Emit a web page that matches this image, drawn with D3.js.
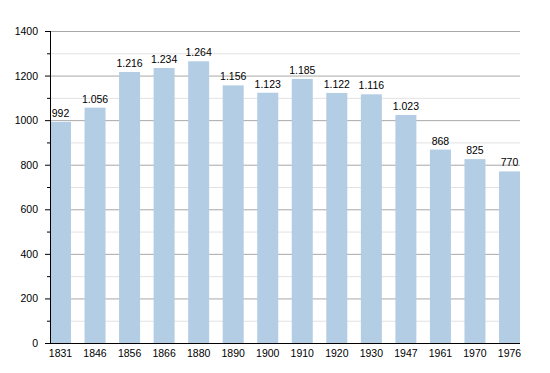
<!DOCTYPE html>
<html>
<head>
<meta charset="utf-8">
<script src="https://cdn.jsdelivr.net/npm/d3@7"></script>
<style>
  body { margin: 0; background: #fff; }
  text { font-family: "Liberation Sans", Arial, sans-serif; font-size: 10.5px; fill: #000; }
</style>
</head>
<body>
<svg id="chart" width="550" height="373"></svg>
<script>
// census years and population
const years = ["1831", "1846", "1856", "1866", "1880", "1890", "1900", "1910", "1920", "1930", "1947", "1961", "1970", "1976"];
const population = [992, 1056, 1216, 1234, 1264, 1156, 1123, 1185, 1122, 1116, 1023, 868, 825, 770];
const majorTicks = [0, 200, 400, 600, 800, 1000, 1200, 1400];
const minorTicks = [100, 300, 500, 700, 900, 1100, 1300];

const svg = d3.select("#chart");
const plotLeft = 50, plotRight = 520, plotTop = 31, plotBottom = 343;

const x = d3.scaleBand().domain(years).range([plotLeft, plotRight]).paddingInner(0.392).paddingOuter(0);
const y = d3.scaleLinear().domain([0, 1400]).range([plotBottom, plotTop]);

// label format with dot as thousands separator
const fmt = d3.formatLocale({ decimal: ",", thousands: ".", grouping: [3], currency: ["", ""] }).format(",d");

// minor grid
svg.append("g").selectAll("line").data(minorTicks).join("line")
  .attr("x1", plotLeft).attr("x2", plotRight)
  .attr("y1", d => y(d) + 0.5).attr("y2", d => y(d) + 0.5)
  .attr("stroke", "#e2e2e2");

// major grid
svg.append("g").selectAll("line").data(majorTicks.filter(d => d > 0)).join("line")
  .attr("x1", plotLeft).attr("x2", plotRight)
  .attr("y1", d => y(d) + 0.5).attr("y2", d => y(d) + 0.5)
  .attr("stroke", "#a8a8a8");

// bars
svg.append("g").selectAll("rect").data(population).join("rect")
  .attr("x", (d, i) => x(years[i]))
  .attr("y", d => y(d))
  .attr("width", x.bandwidth())
  .attr("height", d => plotBottom - y(d))
  .attr("fill", "#b3cde4");

// value labels
svg.append("g").selectAll("text").data(population).join("text")
  .attr("x", (d, i) => x(years[i]) + x.bandwidth() / 2)
  .attr("y", d => y(d) - 5)
  .attr("text-anchor", "middle")
  .text(d => fmt(d));

// y axis
const yAxis = svg.append("g");
yAxis.append("line").attr("x1", plotLeft + 0.5).attr("x2", plotLeft + 0.5).attr("y1", plotTop).attr("y2", plotBottom).attr("stroke", "#000");
yAxis.selectAll(".maj").data(majorTicks).join("line").attr("class", "maj")
  .attr("x1", plotLeft - 5).attr("x2", plotLeft)
  .attr("y1", d => y(d) + 0.5).attr("y2", d => y(d) + 0.5).attr("stroke", "#000");
yAxis.selectAll(".min").data(minorTicks).join("line").attr("class", "min")
  .attr("x1", plotLeft - 3).attr("x2", plotLeft)
  .attr("y1", d => y(d) + 0.5).attr("y2", d => y(d) + 0.5).attr("stroke", "#000");
yAxis.selectAll("text").data(majorTicks).join("text")
  .attr("x", plotLeft - 12).attr("y", d => y(d) + 4)
  .attr("text-anchor", "end")
  .text(d => d);

// x axis
const xAxis = svg.append("g");
xAxis.append("line").attr("x1", plotLeft).attr("x2", plotRight).attr("y1", plotBottom + 0.5).attr("y2", plotBottom + 0.5).attr("stroke", "#000");
xAxis.selectAll("text").data(years).join("text")
  .attr("x", d => x(d) + x.bandwidth() / 2)
  .attr("y", plotBottom + 14)
  .attr("text-anchor", "middle")
  .text(d => d);
</script>
</body>
</html>
